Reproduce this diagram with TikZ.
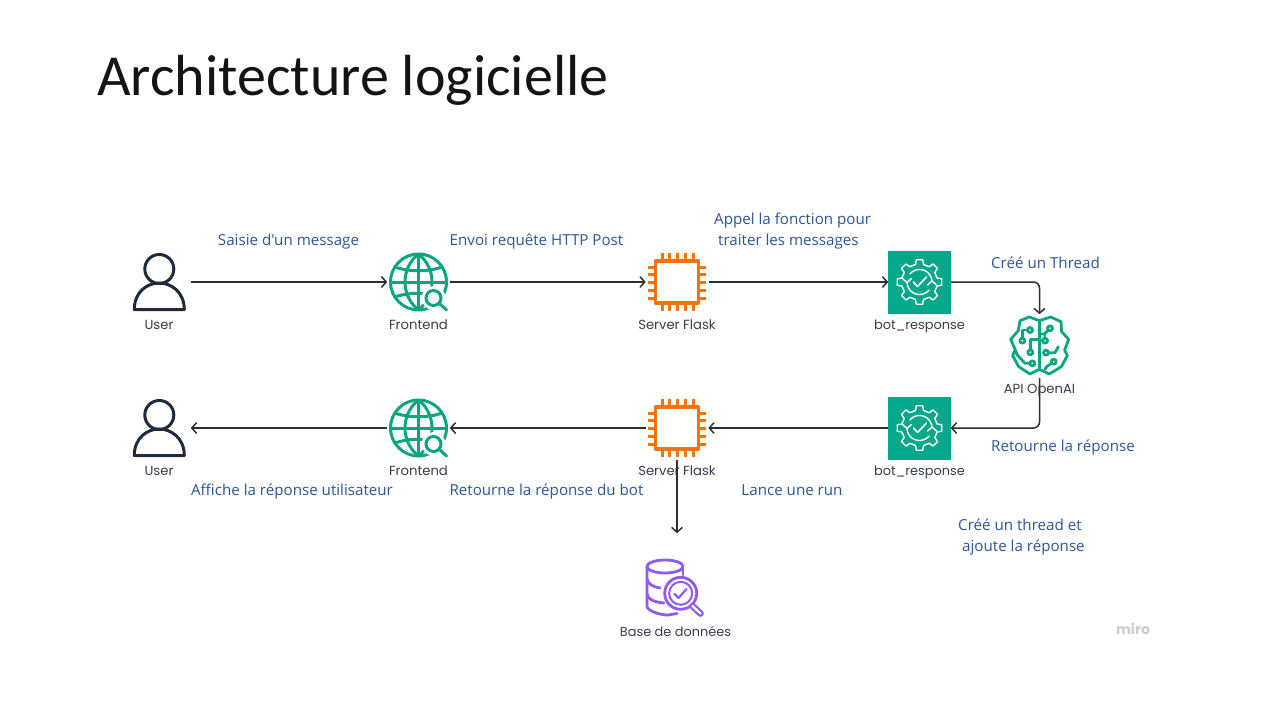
\documentclass[tikz,border=0pt]{standalone}
\usepackage{fontspec}
\usetikzlibrary{arrows.meta}
\setmainfont{Open Sans}
\newfontfamily\notefont{Open Sans}
\newfontfamily\titlefont{Carlito}
\newfontfamily\iconfont{Poppins}
\definecolor{ink}{HTML}{2B2F36}
\definecolor{bluetxt}{HTML}{2F5597}
\definecolor{teal}{HTML}{0BA583}
\definecolor{tealbox}{HTML}{05A88B}
\definecolor{chip}{HTML}{EE7410}
\definecolor{usercol}{HTML}{1F2A3A}
\definecolor{dbcol}{HTML}{8F5BF5}
\definecolor{mirocol}{HTML}{C9CDD3}
\tikzset{
  anchorbox/.style={minimum width=63pt,minimum height=63pt,inner sep=0pt,outer sep=0pt},
  conn/.style={draw=ink,line width=1.5pt,-{Straight Barb[length=4.5pt,width=10pt,line width=1.5pt,round]}},
  iconlabel/.style={font=\iconfont\fontsize{13.2}{15}\selectfont,text=usercol!90!white,inner sep=0pt},
  iconlabelsmall/.style={font=\iconfont\fontsize{12.9}{15}\selectfont,text=usercol!90!white,inner sep=0pt},
  note/.style={font=\notefont\fontsize{15.15}{21.6}\selectfont,text=bluetxt,inner sep=0pt,align=left},
  usericon/.pic={
    \draw[usercol,line width=3pt] (0.3,-13) circle (14.5pt);
    \draw[usercol,line width=3pt,line join=round] (-24.7,27.5) .. controls (-24.7,10) and (-12,1) .. (0.3,1) .. controls (12,1) and (25.3,10) .. (25.3,27.5) -- cycle;
  },
  globeicon/.pic={
    \begin{scope}[teal,line width=3pt]
      \draw (0,0) circle (28pt);
      \draw (0,-28) -- (0,28);
      \draw (-28,0) -- (28,0);
      \draw (0,-28) .. controls (-18,-14) and (-18,14) .. (0,28);
      \draw (0,-28) .. controls (18,-14) and (18,14) .. (0,28);
      \draw (-23.5,-15) .. controls (-10,-10) and (10,-10) .. (23.5,-15);
      \draw (-23.5,15) .. controls (-10,10) and (10,10) .. (23.5,15);
      \fill[white] (15,16) circle (12pt);
      \fill[white] (24,25) circle (7pt);
      \draw (15,16) circle (7.5pt);
      \draw[line cap=round] (20.5,21) -- (28,28);
    \end{scope}
  },
  chipicon/.pic={
    \draw[chip,line width=3.2pt,line join=round] (-21.5,-21) rectangle (21.5,21);
    \foreach \p in {-15,-7.5,0,8,16} {
      \draw[chip,line width=3pt] (\p,-29) -- (\p,-21);
      \draw[chip,line width=3pt] (\p,21) -- (\p,29);
      \draw[chip,line width=3pt] (-29,\p) -- (-21,\p);
      \draw[chip,line width=3pt] (21,\p) -- (29,\p);
    }
  },
  boticon/.pic={
    \fill[tealbox] (-31.5,-31) rectangle (31.5,32);
    \begin{scope}[white,line width=1.4pt,line cap=round,line join=round]
      \foreach \a in {0,45,...,315} {
        \draw ({\a-8}:22.5) -- ({\a+8}:22.5) -- ({\a+13}:18) -- ({\a+32}:18) -- ({\a+37}:22.5);
      }
      \draw plot[smooth,domain=180:320,samples=15] ({12.5*cos(\x)},{-12.5*sin(\x)});
      \draw plot[smooth,domain=0:140,samples=15] ({12.5*cos(\x)},{-12.5*sin(\x)});
      \draw (-17,-3.5) -- (-12.5,0.5) -- (-8,-3.5);
      \draw (8,3) -- (12.5,-1) -- (17,3);
      \draw[line width=1.7pt] (-6,0) -- (-2,4.5) -- (7,-5);
    \end{scope}
  }
}
\begin{document}
\begin{tikzpicture}[x=1pt,y=-1pt]
\fill[white] (0,0) rectangle (1280,720);
\useasboundingbox (0,0) rectangle (1280,720);

\node[font=\titlefont\fontsize{58}{60}\selectfont,text=black!92!white,anchor=base west,inner sep=0pt] (title) at (97,95) {Architecture logicielle};

% anchor nodes
\node[anchorbox,minimum width=64pt] (user1) at (159,282) {};
\node[anchorbox] (front1) at (418.5,282) {};
\node[anchorbox] (server1) at (677,282) {};
\node[anchorbox] (bot1) at (919.5,282) {};
\node[anchorbox,minimum height=64pt] (brain) at (1039.5,346) {};
\node[anchorbox] (bot2) at (919.5,428) {};
\node[anchorbox] (server2) at (677,428) {};
\node[anchorbox] (front2) at (418.5,428) {};
\node[anchorbox,minimum width=64pt] (user2) at (159,428) {};
\node[anchorbox,minimum height=112pt] (db) at (677,589) {};

% icons
\pic at (user1) {usericon};
\pic at (user2) {usericon};
\pic at (front1) {globeicon};
\pic at (front2) {globeicon};
\pic at (server1) {chipicon};
\pic at (server2) {chipicon};
\pic at (bot1) {boticon};
\pic at (bot2) {boticon};

% brain
\begin{scope}[shift={(990,300)},x=.3333pt,y=-.3333pt,teal,line width=2.8pt,line join=round,line cap=round]
  \draw (148,62) -- (118,51) -- (90,62) -- (85,92) -- (62,118) -- (76,150) -- (68,167) -- (86,200) -- (120,222) -- (148,208) -- (178,222) -- (214,200) -- (232,167) -- (224,150) -- (236,118) -- (215,95) -- (213,65) -- (182,51) -- cycle;
  \draw (148,62) -- (148,208);
  \draw (97,114) -- (97,90) -- (112,90);
  \draw (97,122) circle (7.5);
  \draw (120,90) circle (7.5);
  \draw (121,149) -- (121,118) -- (148,118);
  \draw (121,157) circle (7.5);
  \draw (119,190) -- (105,190) -- (82,165) -- (76,150);
  \draw (127,190) circle (7.5);
  \draw (174,91) -- (163,102) -- (148,102);
  \draw (180,85) circle (7.5);
  \draw (165,114) -- (165,100);
  \draw (165,122) circle (7.5);
  \draw (176,158) -- (195,158) -- (205,140);
  \draw (168,158) circle (7.5);
  \draw (184,190) -- (170,200) -- (165,208);
  \draw (191,185) circle (7.5);
\end{scope}

% database
\begin{scope}[dbcol,line width=2.8pt,line cap=round,line join=round]
  \draw (665,566.5) ellipse (18pt and 6.5pt);
  \draw (647,566.5) -- (647,606) .. controls (647,611) and (660,615) .. (668,615) -- (677,613.5);
  \draw (683,567) -- (683,575);
  \draw (647,579) .. controls (648,584) and (653,587) .. (660,588);
  \draw (647,594) .. controls (648,599) and (653,602) .. (664,603);
  \draw (680.7,593.3) circle (16pt);
  \draw[line width=2pt] (680.7,593.3) circle (11.5pt);
  \draw[line width=2.2pt] (674.5,594) -- (678.5,598) -- (686.5,589);
  \draw[line width=6.6pt] (692.5,606) -- (700.5,613.5);
  \draw[white,line width=2.2pt] (692.5,606) -- (700.5,613.5);
\end{scope}

% icon labels
\node[iconlabel] (luser1) at (159,325) {User};
\node[iconlabel] (lfront1) at (418.5,325) {Frontend};
\node[iconlabel] (lserver1) at (677,325) {Server Flask};
\node[iconlabelsmall] (lbot1) at (919.5,326.5) {bot\_response};
\node[iconlabel] (lbrain) at (1039.5,390.5) {API OpenAI};
\node[iconlabel] (luser2) at (159,471) {User};
\node[iconlabel] (lfront2) at (418.5,471) {Frontend};
\node[iconlabel] (lserver2) at (677,471) {Server Flask};
\node[iconlabelsmall] (lbot2) at (919.5,472.5) {bot\_response};
\node[iconlabelsmall] (ldb) at (675.5,631.5) {Base de données};

% connectors
\draw[conn] (user1) -- (front1);
\draw[conn] (front1) -- (server1);
\draw[conn] (server1) -- (bot1);
\draw[conn,rounded corners=6pt] (bot1.east) -| (brain.north);
\draw[conn,rounded corners=6pt] (brain.south) |- (bot2.east);
\draw[conn] (bot2) -- (server2);
\draw[conn] (server2) -- (front2);
\draw[conn] (front2) -- (user2);
\draw[conn] (server2.south) -- (db.north);

% notes
\node[note] (n1) at (288.5,242) {Saisie d'un message};
\node[note] (n2) at (536.5,242) {Envoi requête HTTP Post};
\node[note,anchor=west] (n3) at (714,231) {Appel la fonction pour\\\hspace*{4pt}traiter les messages};
\node[note] (n4) at (1045.5,263) {Créé un Thread};
\node[note] (n5) at (1063,448) {Retourne la réponse};
\node[note] (n6) at (292,492) {Affiche la réponse utilisateur};
\node[note] (n7) at (546.5,492) {Retourne la réponse du bot};
\node[note] (n8) at (792,490) {Lance une run};
\node[note,anchor=west] (n9) at (958,537) {Créé un thread et\\\hspace*{4pt}ajoute la réponse};
\node[font=\iconfont\bfseries\fontsize{14}{16}\selectfont,text=mirocol,inner sep=0pt] (miro) at (1133,629) {miro};
\end{tikzpicture}
\end{document}
